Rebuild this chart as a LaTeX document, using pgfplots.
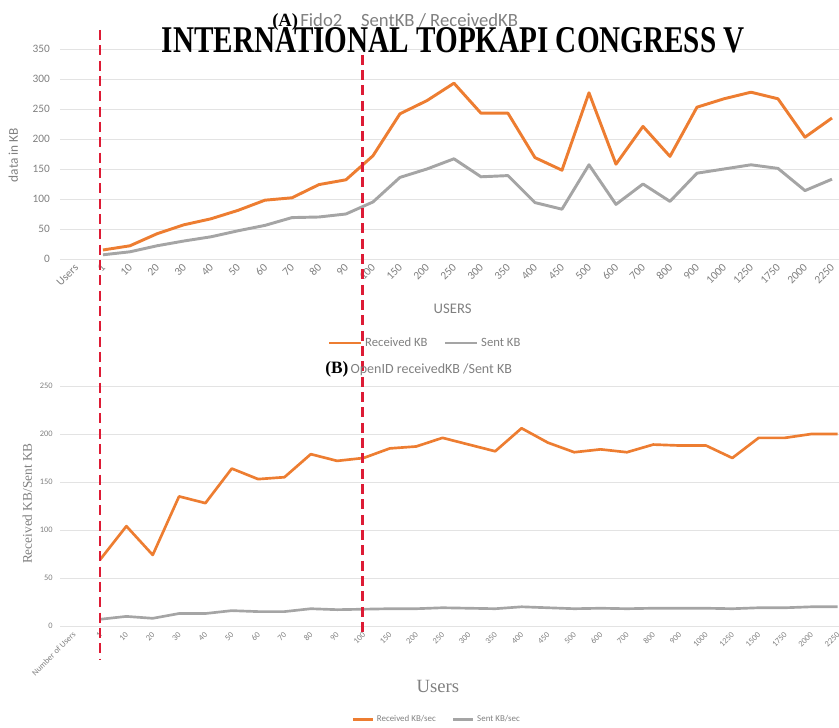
\documentclass[border=0pt]{standalone}
\usepackage{fontspec}
\setmainfont{Carlito}
\newfontfamily\serif{Liberation Serif}
\usepackage{pgfplots}
\pgfplotsset{compat=1.18}
\definecolor{RecvOrange}{HTML}{ED7D31}
\definecolor{SentGray}{HTML}{A5A5A5}
\definecolor{TickGray}{HTML}{808080}
\definecolor{MarkRed}{HTML}{DD1B35}

\pgfplotsset{
  excel/.style={
    scale only axis, width=584.25pt, anchor=south west,
    axis line style={draw=none}, tick style={draw=none},
    ymajorgrids, grid style={draw=gray!22, line width=0.7pt},
    ymin=0, ytick distance=50,
    /pgf/number format/assume math mode=true,
    tick label style={text=TickGray},
    xticklabel style={rotate=45, anchor=east},
    legend style={draw=none, fill=none, legend columns=2, anchor=center,
      text=TickGray, /tikz/every even column/.append style={column sep=10pt}},
    clip=false,
  },
}

\begin{document}
\begin{tikzpicture}
\useasboundingbox (0,0) rectangle (629.25pt,546pt);

% (A) Fido2
\begin{axis}[excel,
  at={(45pt,351.75pt)}, height=157.5pt,
  xmin=-0.59, xmax=28.26, ymax=350,
  xtick={0,...,28},
  xticklabels={Users,1,10,20,30,40,50,60,70,80,90,100,150,200,250,300,350,400,450,500,600,700,800,900,1000,1250,1750,2000,2250},
  tick label style={font=\fontsize{8.5}{9}\selectfont},
  yticklabel style={xshift=-4pt},
  xticklabel style={yshift=-4pt},
  ylabel={data in KB},
  ylabel style={at={(axis description cs:-0.06,0.495)}, anchor=center, text=TickGray, font=\fontsize{10}{11}\selectfont},
  xlabel={USERS},
  xlabel style={at={(axis description cs:0.504,-0.238)}, anchor=center, text=TickGray, font=\fontsize{11}{12}\selectfont},
  legend style={at={(axis description cs:0.469,-0.4)}, font=\fontsize{9.5}{10}\selectfont},
  legend image code/.code={\draw[#1] (0pt,0pt) -- (24pt,0pt);},
]
\addplot[RecvOrange, line width=2.2pt, line join=round] coordinates {
  (1,15) (2,22) (3,42) (4,57) (5,67) (6,81) (7,98) (8,102) (9,124) (10,132)
  (11,172) (12,242) (13,264) (14,293) (15,243) (16,243) (17,169) (18,148)
  (19,277) (20,158) (21,221) (22,171) (23,253) (24,267) (25,278) (26,267)
  (27,203) (28,235)
};
\addplot[SentGray, line width=2.2pt, line join=round] coordinates {
  (1,7) (2,12) (3,22) (4,30) (5,37) (6,47) (7,56) (8,69) (9,70) (10,75)
  (11,95) (12,136) (13,150) (14,167) (15,137) (16,139) (17,94) (18,83)
  (19,157) (20,91) (21,125) (22,96) (23,143) (24,150) (25,157) (26,151)
  (27,114) (28,133)
};
\legend{Received KB, Sent KB}
\end{axis}

% (B) OpenID
\begin{axis}[excel,
  at={(45pt,76.5pt)}, height=180pt,
  xmin=-0.52, xmax=29.05, ymax=250,
  xtick={0,...,29},
  xticklabels={Number of Users,1,10,20,30,40,50,60,70,80,90,100,150,200,250,300,350,400,450,500,600,700,800,900,1000,1250,1500,1750,2000,2250},
  tick label style={font=\fontsize{6.3}{7}\selectfont},
  yticklabel style={xshift=-2pt},
  xticklabel style={yshift=-4pt},
  ylabel={Received KB/Sent KB},
  ylabel style={at={(axis description cs:-0.042,0.51)}, anchor=center, text=TickGray, font=\serif\fontsize{10}{11}\selectfont},
  xlabel={Users},
  xlabel style={at={(axis description cs:0.485,-0.254)}, anchor=center, text=TickGray, font=\serif\fontsize{14}{15}\selectfont},
  legend style={at={(axis description cs:0.484,-0.39)}, font=\fontsize{6.7}{7}\selectfont},
  legend image code/.code={\draw[#1] (0pt,0pt) -- (15pt,0pt);},
]
\addplot[RecvOrange, line width=2pt, line join=round] coordinates {
  (1,69) (2,104) (3,74) (4,135) (5,128) (6,164) (7,153) (8,155) (9,179) (10,172)
  (11,175) (12,185) (13,187) (14,196) (15,189) (16,182) (17,206) (18,191)
  (19,181) (20,184) (21,181) (22,189) (23,188) (24,188) (25,175) (26,196)
  (27,196) (28,200) (29,200)
};
\addplot[SentGray, line width=2pt, line join=round] coordinates {
  (1,7) (2,10) (3,8) (4,13) (5,13) (6,16) (7,15) (8,15) (9,18) (10,17)
  (11,17.5) (12,18) (13,18) (14,19) (15,18.5) (16,18) (17,20) (18,19)
  (19,18) (20,18.5) (21,18) (22,18.5) (23,18.5) (24,18.5) (25,18) (26,19)
  (27,19) (28,20) (29,20)
};
\legend{Received KB/sec, Sent KB/sec}
% hand-drawn red markers spanning both panels
\draw[MarkRed, line width=2pt, dash pattern=on 7.5pt off 4pt] (axis cs:1.0,621) -- (axis cs:1.0,-35.4);
\draw[MarkRed, line width=2pt, dash pattern=on 7.5pt off 4pt] (axis cs:10.95,595) -- (axis cs:10.95,-9.4);
\end{axis}

% titles and page header
\node[anchor=west, inner sep=0] at (204pt,529.5pt)
  {{\serif\bfseries\fontsize{14}{15}\selectfont (A)}\,{\color{TickGray}\fontsize{14}{15}\selectfont Fido2\hspace{14pt}SentKB / ReceivedKB}};
\node[anchor=west, inner sep=0] at (243.75pt,269.25pt)
  {{\serif\bfseries\fontsize{13}{14}\selectfont (B)}\,{\color{TickGray}\fontsize{10.5}{11}\selectfont OpenID receivedKB /Sent KB}};
\node[inner sep=0] at (340pt,515.6pt)
  {\resizebox{437pt}{18.75pt}{\serif\bfseries INTERNATIONAL TOPKAPI CONGRESS V}};
\end{tikzpicture}
\end{document}
